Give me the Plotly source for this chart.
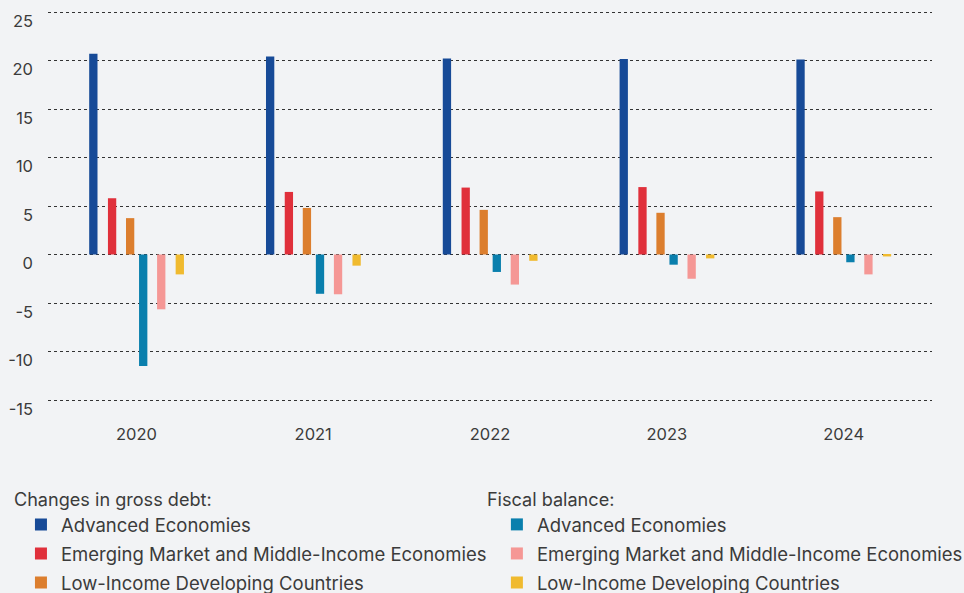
import plotly.graph_objects as go

years = ["2020", "2021", "2022", "2023", "2024"]

debt_adv = [20.7, 20.4, 20.2, 20.15, 20.1]
debt_em = [5.8, 6.45, 6.9, 6.95, 6.5]
debt_lidc = [3.75, 4.8, 4.6, 4.3, 3.85]

fiscal_adv = [-11.5, -4.05, -1.8, -1.05, -0.8]
fiscal_em = [-5.65, -4.1, -3.1, -2.5, -2.05]
fiscal_lidc = [-2.05, -1.15, -0.65, -0.4, -0.2]

y_ticks = [-15, -10, -5, 0, 5, 10, 15, 20, 25]
y_tick_labels = ["-15", "-10", "-5", "0", "5", "10", "15", "20", "25"]

names = ["Advanced Economies", "Emerging Market and Middle-Income Economies",
         "Low-Income Developing Countries"]

FONT = "Inter, 'IBM Plex Sans', sans-serif"
TXT = "#3b3b3b"
BG = "#f2f3f5"

series = [
    (debt_adv, names[0], "#174a97", -0.267, "legend"),
    (debt_em, names[1], "#e0303b", -0.161, "legend"),
    (debt_lidc, names[2], "#dc7e2e", -0.059, "legend"),
    (fiscal_adv, names[0], "#0a7fad", 0.015, "legend2"),
    (fiscal_em, names[1], "#f59795", 0.117, "legend2"),
    (fiscal_lidc, names[2], "#f0ba2f", 0.222, "legend2"),
]

fig = go.Figure()
for i, (vals, nm, col, off, lg) in enumerate(series):
    fig.add_trace(go.Bar(
        x=years, y=vals, name=nm, marker=dict(color=col, line=dict(width=0)),
        offset=off, width=0.047, legend=lg, legendgroup=f"g{i}",
    ))

fig.update_layout(
    width=964, height=593,
    paper_bgcolor=BG, plot_bgcolor=BG,
    margin=dict(l=48, r=32, t=10, b=191, autoexpand=False),
    barmode="overlay",
    font=dict(family=FONT, size=17, color=TXT),
    xaxis=dict(type="category", showgrid=False, showline=False, ticks="",
               ticklabelstandoff=20, tickfont=dict(size=16.5), automargin=False),
    yaxis=dict(range=[-15.206, 25.206], tickvals=y_ticks, ticktext=y_tick_labels,
               showgrid=True, gridcolor="#333", griddash="dot", gridwidth=1,
               zeroline=False, showline=False, ticks="", ticklabelshift=9,
               ticklabelstandoff=14, tickfont=dict(size=16.5), automargin=False),
    legend=dict(title=dict(text="Changes in gross debt:", side="top", font=dict(size=18.1)),
                orientation="v", xref="container", yref="container",
                x=0.0124, y=0.1866, xanchor="left", yanchor="top", indentation=9,
                tracegroupgap=2,
                bgcolor="rgba(0,0,0,0)", font=dict(size=18.5), itemclick=False),
    legend2=dict(title=dict(text="Fiscal balance:", side="top", font=dict(size=18.1)),
                 orientation="v", xref="container", yref="container",
                 x=0.503, y=0.1866, xanchor="left", yanchor="top", indentation=12,
                 tracegroupgap=2,
                 bgcolor="rgba(0,0,0,0)", font=dict(size=18.5), itemclick=False),
    showlegend=True,
)

fig.write_html("out.html", config={"displayModeBar": False},
               post_script="document.body.style.margin='0';")
